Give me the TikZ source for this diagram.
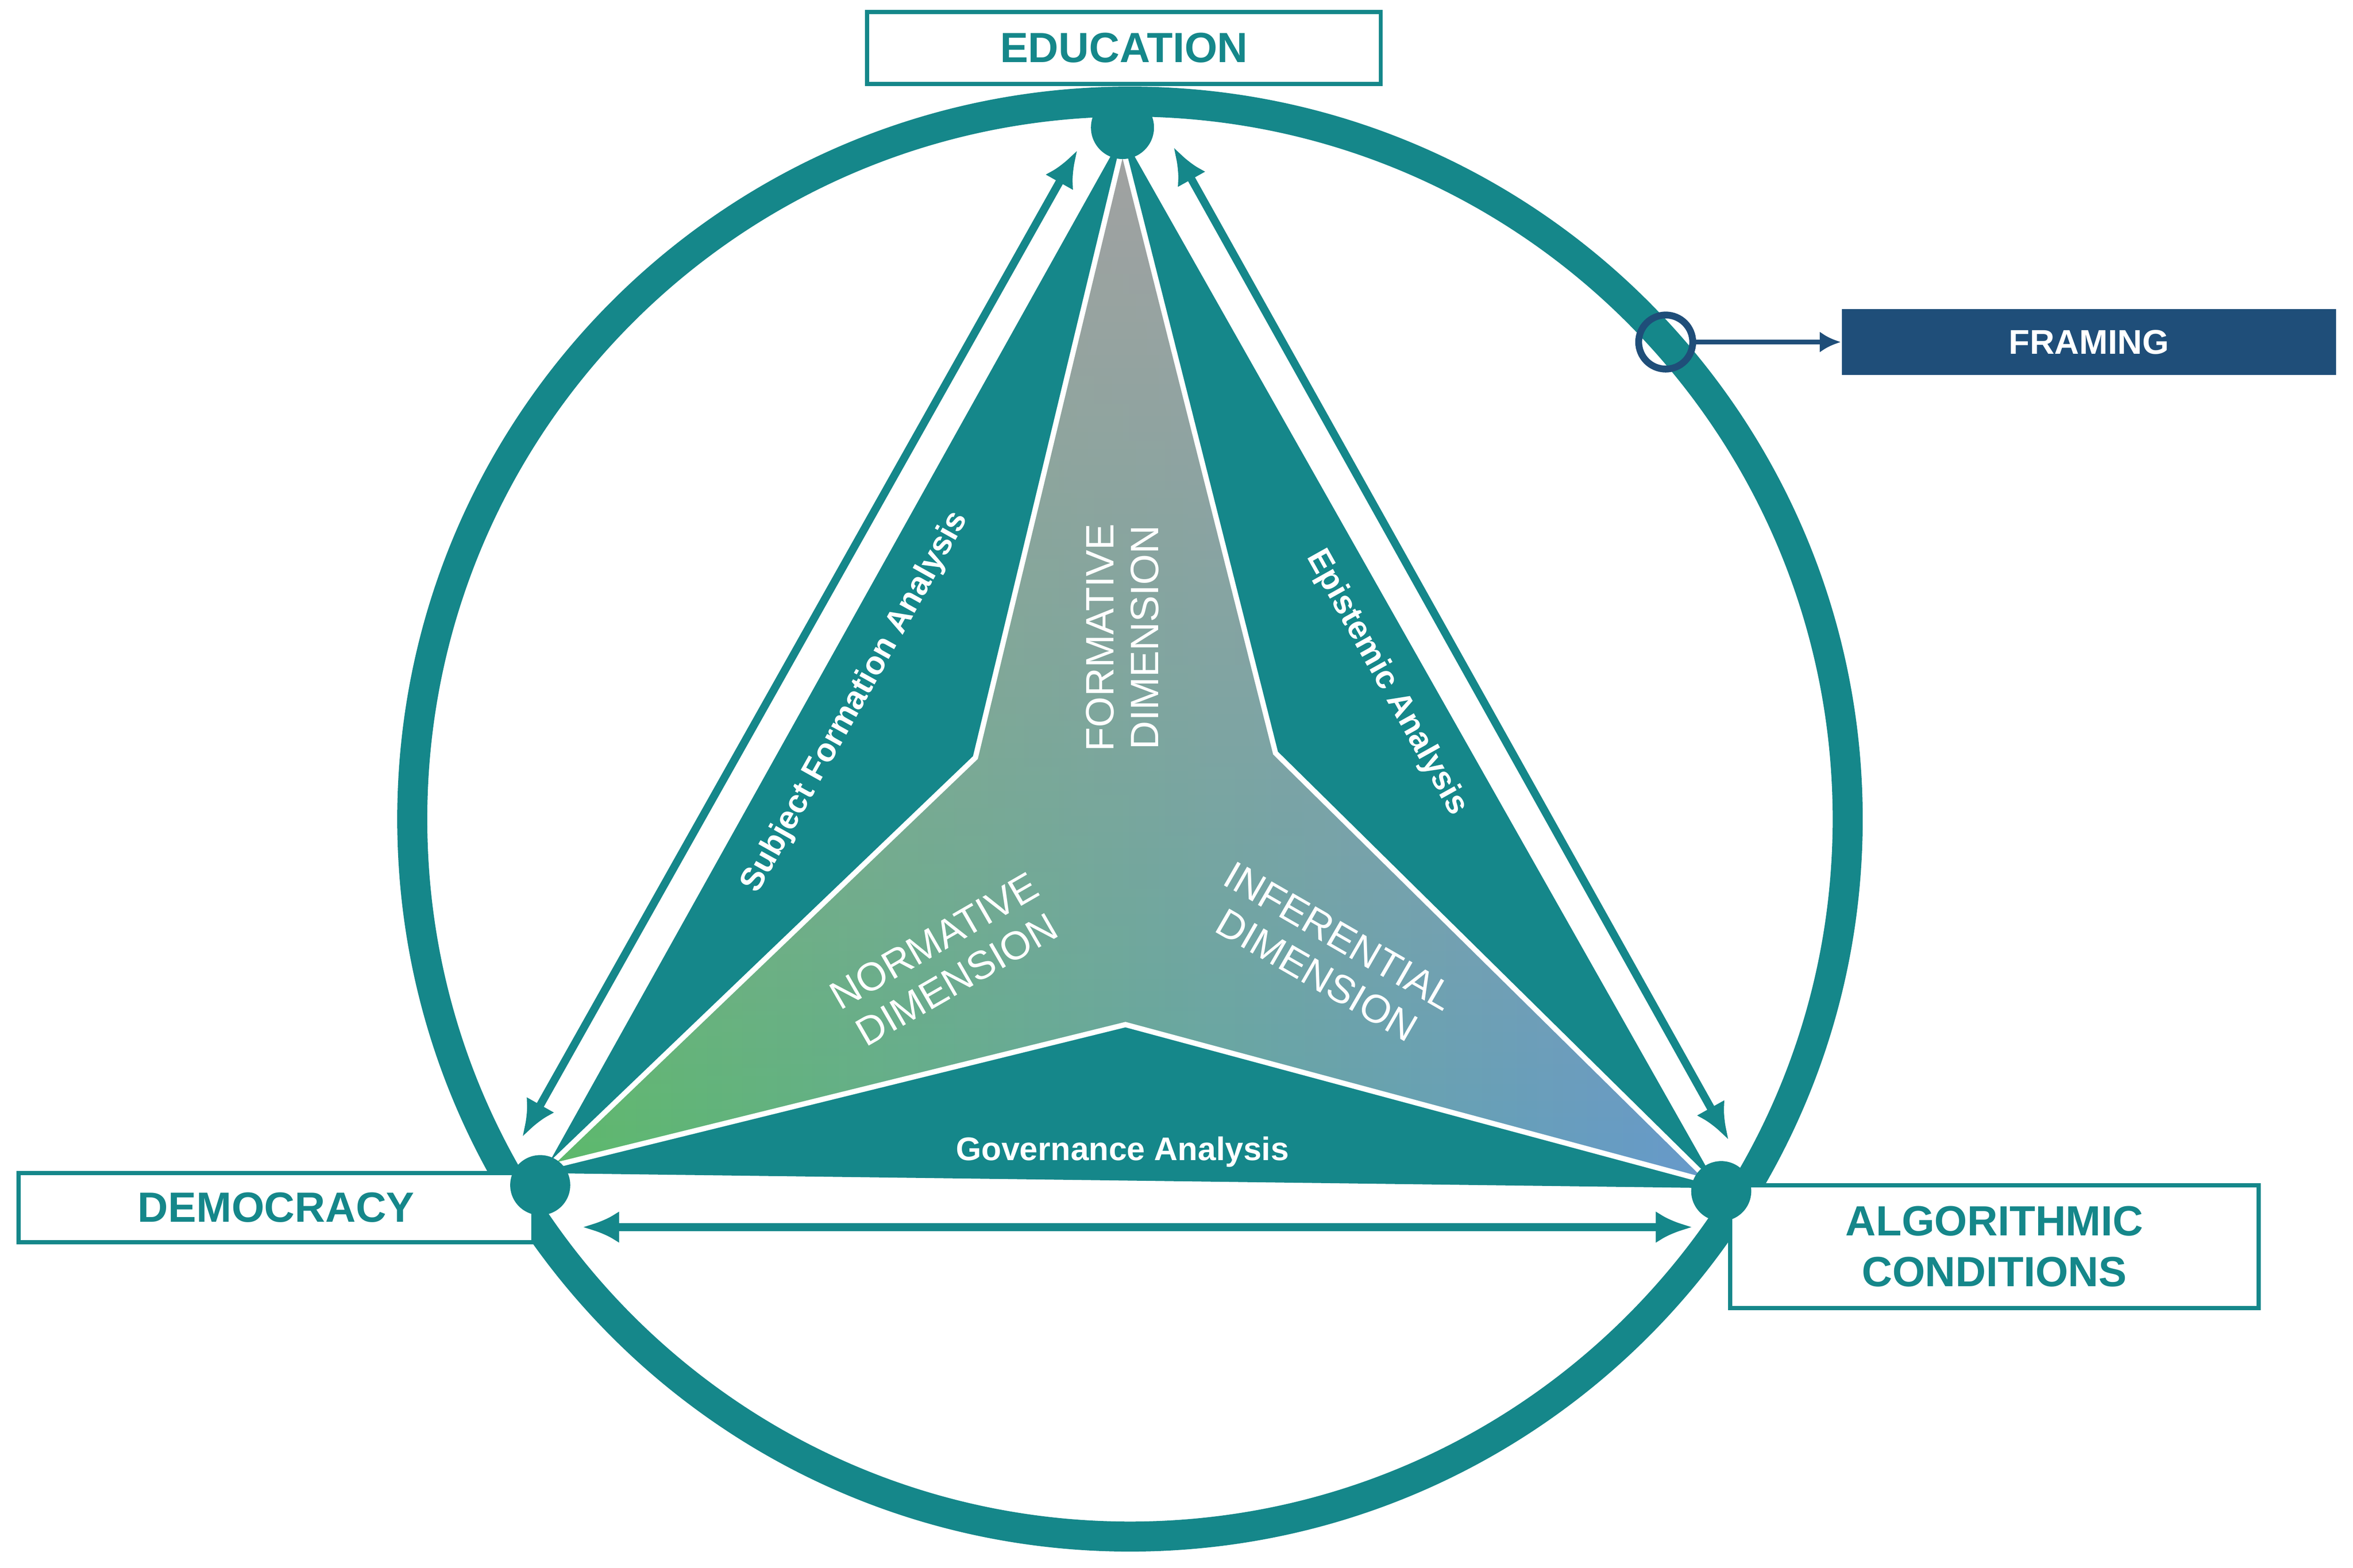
\documentclass[tikz,border=0pt]{standalone}
\usepackage{fontspec}
\setmainfont{Liberation Sans}
\usetikzlibrary{arrows.meta,fadings}
\definecolor{teal1}{HTML}{15878A}
\definecolor{navy}{HTML}{1F4E79}
\definecolor{gr}{HTML}{5CBA6A}
\definecolor{bl}{HTML}{6699CC}
\definecolor{gy}{HTML}{A2A2A2}
\tikzfading[name=topfade, top color=transparent!0, middle color=transparent!85, bottom color=transparent!100]
\begin{document}
\begin{tikzpicture}[x=0.01cm,y=-0.01cm,
  lbl/.style={draw=teal1,line width=0.8pt,fill=white,text=teal1,font=\fontsize{8}{9.6}\selectfont\bfseries,align=center},
  ana/.style={text=white,font=\fontsize{6.2}{7.4}\selectfont\bfseries},
  dim/.style={text=white,font=\fontsize{7.5}{8.5}\selectfont,align=center},
  arr/.style={draw=teal1,line width=1.5pt,{Latex[length=7pt,width=6pt]}-{Latex[length=7pt,width=6pt]}}]
\useasboundingbox (0,0) rectangle (1568,1045);
\node[circle,draw=teal1,line width=0.2cm,minimum size=9.56cm,inner sep=0] (ring) at (753,546) {};
% outer triangle
\fill[teal1] (748,90) -- (362,782) -- (1145,792) -- cycle;
% star
\path[shade,left color=gr,right color=bl] (748,98) -- (650,505) -- (365,778) -- (750,683) -- (1140,788) -- (850,502) -- cycle;
\fill[gy,path fading=topfade] (748,98) -- (650,505) -- (365,778) -- (750,683) -- (1140,788) -- (850,502) -- cycle;
\draw[white,line width=1pt,line join=miter] (748,98) -- (650,505) -- (365,778) -- (750,683) -- (1140,788) -- (850,502) -- cycle;
% labels
\node[lbl,minimum width=3.42cm,minimum height=0.48cm] (E) at (749,32) {EDUCATION};
\node[lbl,minimum width=3.43cm,minimum height=0.46cm] (D) at (184,805) {DEMOCRACY};
\node[lbl,minimum width=3.52cm,minimum height=0.82cm] (A) at (1329,831) {ALGORITHMIC\\CONDITIONS};
\node[fill=navy,text=white,font=\fontsize{6.5}{8}\selectfont\bfseries,minimum width=3.29cm,minimum height=0.44cm] (F) at (1392,228) {FRAMING};
% dots
\node[circle,fill=teal1,minimum size=0.42cm,inner sep=0] (edu) at (748,85) {};
\node[circle,fill=teal1,minimum size=0.4cm,inner sep=0] (dem) at (360,790) {};
\node[circle,fill=teal1,minimum size=0.4cm,inner sep=0] (alg) at (1147,794) {};
% arrows
\coordinate (a1) at (718,100); \coordinate (a2) at (348,758);
\coordinate (b1) at (782,98); \coordinate (b2) at (1152,760);
\coordinate (c1) at (388,818); \coordinate (c2) at (1128,818);
\draw[arr] (a1) -- (a2);
\draw[arr] (b1) -- (b2);
\draw[arr] (c1) -- (c2);
\node[circle,draw=navy,line width=1.3pt,minimum size=0.36cm,inner sep=0] (fc) at (1110,228) {};
\draw[navy,line width=0.9pt,-{Latex[length=4pt,width=4pt]}] (fc) -- (F);
% text
\node[ana,rotate=60.8] (t1) at (570,468) {Subject Formation Analysis};
\node[ana,rotate=-60.8] (t2) at (924,455) {Epistemic Analysis};
\node[ana] (t3) at (748,768) {Governance Analysis};
\node[dim,rotate=90] (d1) at (748,425) {FORMATIVE\\DIMENSION};
\node[dim,rotate=30] (d2) at (630,640) {NORMATIVE\\DIMENSION};
\node[dim,rotate=-30] (d3) at (885,637) {INFERENTIAL\\DIMENSION};
\end{tikzpicture}
\end{document}
